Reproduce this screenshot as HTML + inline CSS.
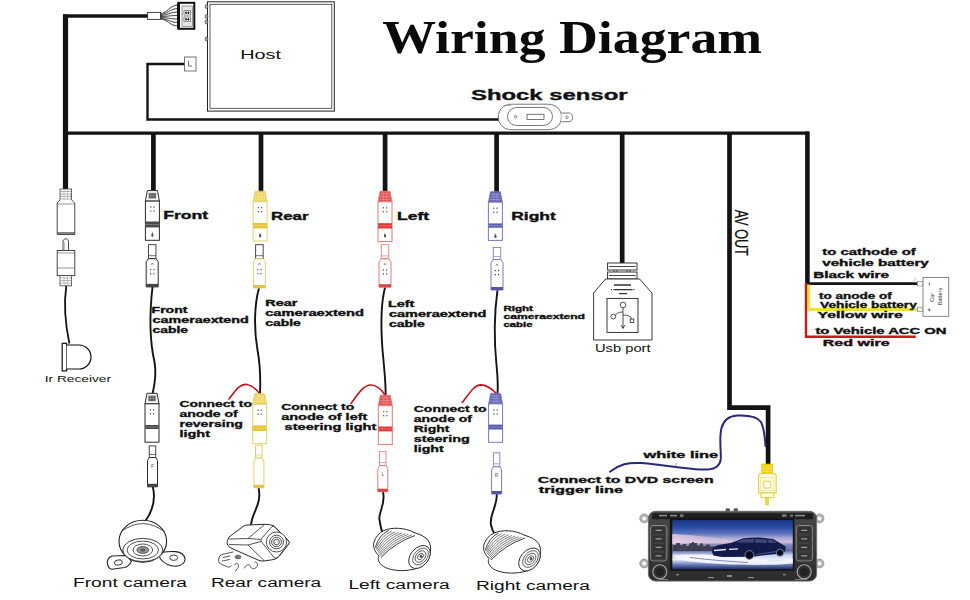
<!DOCTYPE html>
<html><head><meta charset="utf-8"><title>Wiring Diagram</title>
<style>
html,body{margin:0;padding:0;background:#fff;width:970px;height:600px;overflow:hidden;}
svg{display:block;font-family:"Liberation Sans", sans-serif;}
</style></head><body>
<svg width="970" height="600" viewBox="0 0 970 600">
<rect width="970" height="600" fill="#fff"/>

<g fill="none" stroke="#141414" stroke-linecap="square">
<path d="M65.5,14.5 L65.5,190" stroke-width="5.2" stroke-linecap="butt"/>
<path d="M63,16 L148,16" stroke-width="3.4" stroke-linecap="butt"/>
<path d="M66,133.2 L807.4,133.2" stroke-width="3.2"/>
<path d="M807.4,131.6 L807.4,284.5" stroke-width="4.6" stroke-linecap="butt"/>
<path d="M153.4,134 L153.4,191" stroke-width="4.7" stroke-linecap="butt"/>
<path d="M261,134 L261,192" stroke-width="4.7" stroke-linecap="butt"/>
<path d="M385.1,134 L385.1,191.5" stroke-width="4.7" stroke-linecap="butt"/>
<path d="M496.6,134 L496.6,192" stroke-width="4.7" stroke-linecap="butt"/>
<path d="M622.2,134 L622.2,263" stroke-width="4.7" stroke-linecap="butt"/>
<path d="M729.5,134 L729.5,407.6 L768.1,407.6 L768.1,465" stroke-width="4.7" stroke-linecap="butt" stroke-linejoin="miter"/>
<path d="M185,64 L147.5,64 L147.5,119.5 L499,119.5" stroke-width="2.4"/>
</g>
<rect x="147.5" y="12.4" width="13" height="7" fill="#fff" stroke="#333" stroke-width="0.9"/>
<path d="M160.5,13.5 C167,13.5 170,5 178,5" stroke="#333" stroke-width="0.95" fill="none"/>
<path d="M160.5,14.5 C167,14.5 170,8.5 178,8.5" stroke="#333" stroke-width="0.95" fill="none"/>
<path d="M160.5,15.5 C167,15.5 170,12 178,12" stroke="#333" stroke-width="0.95" fill="none"/>
<path d="M160.5,16.5 C167,16.5 170,15.5 178,15.5" stroke="#333" stroke-width="0.95" fill="none"/>
<path d="M160.5,17.5 C167,17.5 170,19 178,19" stroke="#333" stroke-width="0.95" fill="none"/>
<path d="M160.5,18.5 C167,18.5 170,22.5 178,22.5" stroke="#333" stroke-width="0.95" fill="none"/>
<path d="M160.5,19 C167,19 170,26 178,26" stroke="#333" stroke-width="0.95" fill="none"/>
<rect x="178.5" y="2.8" width="15.8" height="26" fill="#fff" stroke="#111" stroke-width="2"/>
<rect x="177" y="2.8" width="3" height="26" fill="#111"/>
<rect x="182" y="6" width="10.5" height="20.5" fill="#e4e4e4" stroke="#777" stroke-width="0.7"/>
<path d="M184,10.5 L190.5,10.5 L190.5,15 L184,15 Z M184,17 L190.5,17 L190.5,21.5 L184,21.5 Z" fill="#fff" stroke="#555" stroke-width="0.6"/>
<path d="M186,11.5 L186,14 M188.5,11.5 L188.5,14 M185,12.8 L189.5,12.8 M186,18 L186,20.5 M188.5,18 L188.5,20.5 M185,19.3 L189.5,19.3" stroke="#111" stroke-width="0.9"/>
<rect x="184.5" y="57" width="11.5" height="14" fill="#fff" stroke="#666" stroke-width="0.9"/>
<path d="M188.5,61 L188.5,66 L192,66" stroke="#444" stroke-width="0.8" fill="none"/>
<rect x="207.5" y="1.8" width="126.8" height="109.3" fill="#fff" stroke="#222" stroke-width="1"/>
<rect x="210" y="4.3" width="121.8" height="104" fill="none" stroke="#333" stroke-width="0.8"/>
<rect x="205.3" y="4.7" width="2.4" height="3.6" rx="0.8" fill="#bbb" stroke="#333" stroke-width="0.7"/>
<rect x="205.3" y="14.7" width="2.4" height="3.6" rx="0.8" fill="#bbb" stroke="#333" stroke-width="0.7"/>
<rect x="205.3" y="20.2" width="2.4" height="3.6" rx="0.8" fill="#bbb" stroke="#333" stroke-width="0.7"/>
<rect x="205.3" y="37.2" width="2.4" height="3.6" rx="0.8" fill="#bbb" stroke="#333" stroke-width="0.7"/>
<text x="240.2" y="58.5" font-family="Liberation Sans" font-size="12.5" font-weight="normal" fill="#111" textLength="40.8" lengthAdjust="spacingAndGlyphs" >Host</text>
<text x="382.2" y="53.3" font-family="Liberation Serif" font-size="45.5" font-weight="bold" fill="#0a0a0a" textLength="380.0" lengthAdjust="spacingAndGlyphs" >Wiring Diagram</text>
<text x="471.0" y="99.5" font-family="Liberation Sans" font-size="15.3" font-weight="bold" fill="#111" textLength="156.6" lengthAdjust="spacingAndGlyphs" stroke="#111" stroke-width="0.35" >Shock sensor</text>
<path d="M512,104.2 L547,104.2 C557,104.2 561.4,110 561.4,117 C561.4,124 557,129.7 547,129.7 L512,129.7 C503,129.7 498.3,124 498.3,117 C498.3,110 503,104.2 512,104.2 Z" fill="#fff" stroke="#555" stroke-width="0.8"/>
<rect x="507.5" y="107.5" width="45" height="18" rx="9" fill="#fff" stroke="#555" stroke-width="0.8"/>
<circle cx="515.7" cy="116.7" r="1.2" fill="none" stroke="#555" stroke-width="0.7"/>
<rect x="527" y="114.3" width="17" height="5.2" fill="#fff" stroke="#555" stroke-width="0.8"/>
<path d="M561.5,113 L569,113 C571.5,113 572.5,115 572.5,117.3 C572.5,119.6 571.5,121.7 569,121.7 L561.5,121.7" fill="#fff" stroke="#555" stroke-width="0.8"/>
<circle cx="567" cy="117.3" r="1.3" fill="none" stroke="#555" stroke-width="0.7"/>
<text x="503" y="106" font-size="2.5" fill="#666" font-family="Liberation Sans">S-7686</text>
<rect x="60" y="189" width="11.6" height="11.5" fill="#fff" stroke="#444" stroke-width="0.8"/>
<line x1="60.5" y1="191.5" x2="71" y2="191.5" stroke="#888" stroke-width="0.6"/>
<line x1="60.5" y1="194" x2="71" y2="194" stroke="#888" stroke-width="0.6"/>
<line x1="60.5" y1="196.5" x2="71" y2="196.5" stroke="#888" stroke-width="0.6"/>
<line x1="60.5" y1="199" x2="71" y2="199" stroke="#888" stroke-width="0.6"/>
<path d="M61,193 L61,199 M64,190 L64,200 M67.5,190 L67.5,200 M70.5,193 L70.5,199" stroke="#999" stroke-width="0.5"/>
<path d="M60,200 L57.2,203 L57.2,234.5 L74.8,234.5 L74.8,203 L71.6,200" fill="#fff" stroke="#333" stroke-width="0.9"/>
<line x1="57.2" y1="233" x2="74.8" y2="233" stroke="#333" stroke-width="1.2"/>
<line x1="57.2" y1="204" x2="74.8" y2="204" stroke="#555" stroke-width="0.6"/>
<path d="M63,250.5 L63,242 C63,239.5 64.5,238.8 65.7,238.8 C67,238.8 68.5,239.5 68.5,242 L68.5,250.5" fill="#fff" stroke="#333" stroke-width="0.9"/>
<line x1="64.7" y1="242" x2="64.7" y2="250" stroke="#777" stroke-width="0.5"/>
<rect x="57.2" y="250.5" width="17.6" height="25.1" fill="#fff" stroke="#333" stroke-width="0.9"/>
<line x1="57.2" y1="253" x2="74.8" y2="253" stroke="#555" stroke-width="0.6"/>
<line x1="57.2" y1="268" x2="74.8" y2="268" stroke="#555" stroke-width="0.6"/>
<rect x="60" y="275.6" width="11.6" height="10.2" fill="#fff" stroke="#444" stroke-width="0.8"/>
<line x1="60.5" y1="278" x2="71" y2="278" stroke="#888" stroke-width="0.6"/>
<line x1="60.5" y1="280.5" x2="71" y2="280.5" stroke="#888" stroke-width="0.6"/>
<line x1="60.5" y1="283" x2="71" y2="283" stroke="#888" stroke-width="0.6"/>
<path d="M64,276 L64,285.5 M67.5,276 L67.5,285.5" stroke="#999" stroke-width="0.5"/>
<path d="M66.3,286 C63.5,305 65.5,325 69.4,343.5" fill="none" stroke="#141414" stroke-width="1.8"/>
<rect x="62.2" y="343.3" width="4.4" height="27.6" fill="#fff" stroke="#111" stroke-width="1.2"/>
<path d="M66.6,345 L79,345 A12,12 0 0 1 79,369 L66.6,369" fill="#fff" stroke="#111" stroke-width="1.2"/>
<text x="44.8" y="381.6" font-family="Liberation Sans" font-size="9.2" font-weight="normal" fill="#111" textLength="66.2" lengthAdjust="spacingAndGlyphs" >Ir Receiver</text>
<g fill="none" stroke="#141414" stroke-width="1.9" stroke-linecap="round">
<path d="M152.5,287 C149,318 149.5,340 154.5,362 C157,376 154,387 152.5,394"/>
<path d="M259,288 C254,306 254,330 257.5,350 C260.5,366 260.5,382 260,394"/>
<path d="M385,287.5 C380.5,305 381,330 382.5,350 C384.5,370 386,385 385.6,395.5"/>
<path d="M497.5,290 C494,315 494.5,345 496.5,365 C498,380 498,388 497.5,394"/>
<path d="M152.8,486.8 C156,500 152,512 145,521.5"/>
<path d="M258.6,487.8 C262,505 252,512 251,525"/>
<path d="M383,491.7 C386,505 378,512 379.5,520 C380.5,526 381,529 382,531"/>
<path d="M496.8,494 C497,508 489,515 491,525 C492,530 494,533 495,534.4"/>
</g>
<g fill="none" stroke="#c0141e" stroke-width="1.6" stroke-linecap="round">
<path d="M229,399 C236,390 240,383.5 247,384.5 C253,385.5 256,389 259.5,393.5"/>
<path d="M351,403.5 C358,394 364,384.5 371,385 C378,385.5 382,390 385,395"/>
<path d="M462.3,402.6 C469,394 474,385 480.7,384.9 C487,385 492,389 496.3,393.6"/>
</g>
<path d="M147.4,190.6 L157.4,190.6 L159.4,201.1 L145.4,201.1 Z" fill="#fff" stroke="#2a2a2a" stroke-width="1"/>
<rect x="148.70000000000002" y="192.9" width="7.4" height="5.6" fill="#555"/>
<line x1="147.90" y1="193.22" x2="156.90" y2="193.22" stroke="#cfcfcf" stroke-width="0.6" opacity="0.7"/>
<line x1="147.40" y1="195.85" x2="157.40" y2="195.85" stroke="#cfcfcf" stroke-width="0.6" opacity="0.7"/>
<line x1="146.90" y1="198.47" x2="157.90" y2="198.47" stroke="#cfcfcf" stroke-width="0.6" opacity="0.7"/>
<line x1="150.9" y1="191.6" x2="150.9" y2="200.1" stroke="#cfcfcf" stroke-width="0.5" opacity="0.6"/>
<line x1="153.9" y1="191.6" x2="153.9" y2="200.1" stroke="#cfcfcf" stroke-width="0.5" opacity="0.6"/>
<rect x="145.4" y="201.1" width="14" height="39.2" fill="#fff" stroke="#2a2a2a" stroke-width="1"/>
<rect x="145.4" y="221.5" width="14" height="5.899999999999999" fill="#4a4a4a"/>
<line x1="145.4" y1="224.45" x2="159.4" y2="224.45" stroke="#fff" stroke-width="0.5" opacity="0.5"/>
<rect x="150.20000000000002" y="206.5" width="1.2" height="1.2" fill="#444"/>
<rect x="150.20000000000002" y="210.5" width="1.2" height="1.2" fill="#444"/>
<rect x="153.4" y="206.5" width="1.2" height="1.2" fill="#444"/>
<rect x="153.4" y="210.5" width="1.2" height="1.2" fill="#444"/>
<path d="M152.4,232.1 L153.6,235.1 Q153.6,236.89999999999998 152.4,236.89999999999998 Q151.20000000000002,236.89999999999998 151.20000000000002,235.1 Z" fill="#555"/>
<rect x="148.45" y="244.7" width="7.5" height="14" fill="#fff" stroke="#333" stroke-width="0.9"/>
<line x1="148.45" y1="255.7" x2="155.95" y2="255.7" stroke="#333" stroke-width="0.7"/>
<path d="M148.45,258.7 L155.95,258.7 L158.2,261.7 L158.2,286.9 L146.2,286.9 L146.2,261.7 Z" fill="#fff" stroke="#2a2a2a" stroke-width="1"/>
<rect x="146.2" y="283.9" width="12" height="3" fill="#444"/>
<path d="M151.2,264.7 L152.2,263.2 L153.2,264.7" stroke="#444" stroke-width="0.7" fill="none"/>
<rect x="150.0" y="269.09999999999997" width="1.2" height="1.2" fill="#444"/>
<rect x="150.0" y="273.09999999999997" width="1.2" height="1.2" fill="#444"/>
<rect x="153.2" y="269.09999999999997" width="1.2" height="1.2" fill="#444"/>
<rect x="153.2" y="273.09999999999997" width="1.2" height="1.2" fill="#444"/>
<path d="M147.0,393.3 L157.0,393.3 L159.0,403.8 L145.0,403.8 Z" fill="#fff" stroke="#2a2a2a" stroke-width="1"/>
<rect x="148.3" y="395.6" width="7.4" height="5.6" fill="#555"/>
<line x1="147.50" y1="395.93" x2="156.50" y2="395.93" stroke="#cfcfcf" stroke-width="0.6" opacity="0.7"/>
<line x1="147.00" y1="398.55" x2="157.00" y2="398.55" stroke="#cfcfcf" stroke-width="0.6" opacity="0.7"/>
<line x1="146.50" y1="401.18" x2="157.50" y2="401.18" stroke="#cfcfcf" stroke-width="0.6" opacity="0.7"/>
<line x1="150.5" y1="394.3" x2="150.5" y2="402.8" stroke="#cfcfcf" stroke-width="0.5" opacity="0.6"/>
<line x1="153.5" y1="394.3" x2="153.5" y2="402.8" stroke="#cfcfcf" stroke-width="0.5" opacity="0.6"/>
<rect x="145.0" y="403.8" width="14" height="38.4" fill="#fff" stroke="#2a2a2a" stroke-width="1"/>
<rect x="145.0" y="425.0" width="14" height="4.0000000000000036" fill="#4a4a4a"/>
<line x1="145.0" y1="427.0" x2="159.0" y2="427.0" stroke="#fff" stroke-width="0.5" opacity="0.5"/>
<rect x="149.8" y="409.2" width="1.2" height="1.2" fill="#444"/>
<rect x="149.8" y="413.2" width="1.2" height="1.2" fill="#444"/>
<rect x="153.0" y="409.2" width="1.2" height="1.2" fill="#444"/>
<rect x="153.0" y="413.2" width="1.2" height="1.2" fill="#444"/>
<rect x="149.25" y="445.9" width="6.5" height="11.6" fill="#fff" stroke="#333" stroke-width="0.9"/>
<line x1="149.25" y1="454.5" x2="155.75" y2="454.5" stroke="#333" stroke-width="0.7"/>
<path d="M149.25,457.5 L155.75,457.5 L157.5,460.5 L157.5,486.8 L147.5,486.8 L147.5,460.5 Z" fill="#fff" stroke="#2a2a2a" stroke-width="1"/>
<rect x="147.5" y="483.8" width="10" height="3" fill="#444"/>
<text x="152.5" y="467.5" font-family="Liberation Sans" font-size="5" text-anchor="middle" fill="#555">F</text>
<path d="M255.10000000000002,191.2 L265.1,191.2 L267.1,201.7 L253.10000000000002,201.7 Z" fill="#ecd564" stroke="#e3cf72" stroke-width="0.8"/>
<line x1="255.60" y1="193.82" x2="264.60" y2="193.82" stroke="#fff6c0" stroke-width="0.6" opacity="0.7"/>
<line x1="255.10" y1="196.45" x2="265.10" y2="196.45" stroke="#fff6c0" stroke-width="0.6" opacity="0.7"/>
<line x1="254.60" y1="199.07" x2="265.60" y2="199.07" stroke="#fff6c0" stroke-width="0.6" opacity="0.7"/>
<line x1="258.6" y1="192.2" x2="258.6" y2="200.7" stroke="#fff6c0" stroke-width="0.5" opacity="0.6"/>
<line x1="261.6" y1="192.2" x2="261.6" y2="200.7" stroke="#fff6c0" stroke-width="0.5" opacity="0.6"/>
<rect x="253.10000000000002" y="201.7" width="14" height="39.3" fill="#fff" stroke="#e3cf72" stroke-width="1"/>
<rect x="253.10000000000002" y="223.0" width="14" height="5.400000000000002" fill="#e6c63a"/>
<line x1="253.10000000000002" y1="225.7" x2="267.1" y2="225.7" stroke="#fff" stroke-width="0.5" opacity="0.5"/>
<rect x="257.9" y="207.1" width="1.2" height="1.2" fill="#444"/>
<rect x="257.9" y="211.1" width="1.2" height="1.2" fill="#444"/>
<rect x="261.1" y="207.1" width="1.2" height="1.2" fill="#444"/>
<rect x="261.1" y="211.1" width="1.2" height="1.2" fill="#444"/>
<path d="M260.1,232.7 L261.3,235.7 Q261.3,237.5 260.1,237.5 Q258.90000000000003,237.5 258.90000000000003,235.7 Z" fill="#555"/>
<rect x="255.64999999999998" y="244.7" width="7.5" height="14" fill="#fff" stroke="#333" stroke-width="0.9"/>
<line x1="255.64999999999998" y1="255.7" x2="263.15" y2="255.7" stroke="#333" stroke-width="0.7"/>
<path d="M255.64999999999998,258.7 L263.15,258.7 L265.4,261.7 L265.4,288.0 L253.39999999999998,288.0 L253.39999999999998,261.7 Z" fill="#fff" stroke="#e3cf72" stroke-width="1"/>
<rect x="253.39999999999998" y="285.0" width="12" height="3" fill="#e3c540"/>
<path d="M258.4,264.7 L259.4,263.2 L260.4,264.7" stroke="#444" stroke-width="0.7" fill="none"/>
<rect x="257.19999999999993" y="269.09999999999997" width="1.2" height="1.2" fill="#444"/>
<rect x="257.19999999999993" y="273.09999999999997" width="1.2" height="1.2" fill="#444"/>
<rect x="260.4" y="269.09999999999997" width="1.2" height="1.2" fill="#444"/>
<rect x="260.4" y="273.09999999999997" width="1.2" height="1.2" fill="#444"/>
<path d="M254.7,393.7 L264.7,393.7 L266.7,404.2 L252.7,404.2 Z" fill="#ecd564" stroke="#e3cf72" stroke-width="0.8"/>
<line x1="255.20" y1="396.32" x2="264.20" y2="396.32" stroke="#fff6c0" stroke-width="0.6" opacity="0.7"/>
<line x1="254.70" y1="398.95" x2="264.70" y2="398.95" stroke="#fff6c0" stroke-width="0.6" opacity="0.7"/>
<line x1="254.20" y1="401.57" x2="265.20" y2="401.57" stroke="#fff6c0" stroke-width="0.6" opacity="0.7"/>
<line x1="258.2" y1="394.7" x2="258.2" y2="403.2" stroke="#fff6c0" stroke-width="0.5" opacity="0.6"/>
<line x1="261.2" y1="394.7" x2="261.2" y2="403.2" stroke="#fff6c0" stroke-width="0.5" opacity="0.6"/>
<rect x="252.7" y="404.2" width="14" height="39.5" fill="#fff" stroke="#e3cf72" stroke-width="1"/>
<rect x="252.7" y="425.4" width="14" height="5.599999999999998" fill="#e6c63a"/>
<line x1="252.7" y1="428.2" x2="266.7" y2="428.2" stroke="#fff" stroke-width="0.5" opacity="0.5"/>
<rect x="257.49999999999994" y="409.59999999999997" width="1.2" height="1.2" fill="#444"/>
<rect x="257.49999999999994" y="413.59999999999997" width="1.2" height="1.2" fill="#444"/>
<rect x="260.7" y="409.59999999999997" width="1.2" height="1.2" fill="#444"/>
<rect x="260.7" y="413.59999999999997" width="1.2" height="1.2" fill="#444"/>
<rect x="255.64999999999998" y="445.2" width="6.5" height="12.8" fill="#fff" stroke="#e0c850" stroke-width="0.9"/>
<line x1="255.64999999999998" y1="455.0" x2="262.15" y2="455.0" stroke="#e0c850" stroke-width="0.7"/>
<path d="M255.64999999999998,458.0 L262.15,458.0 L263.9,461.0 L263.9,487.8 L253.89999999999998,487.8 L253.89999999999998,461.0 Z" fill="#fff" stroke="#e3cf72" stroke-width="1"/>
<rect x="253.89999999999998" y="484.8" width="10" height="3" fill="#e3c540"/>
<path d="M380.0,191.3 L390.0,191.3 L392.0,201.8 L378.0,201.8 Z" fill="#e25454" stroke="#e07a7a" stroke-width="0.8"/>
<line x1="380.50" y1="193.93" x2="389.50" y2="193.93" stroke="#ffc0c0" stroke-width="0.6" opacity="0.7"/>
<line x1="380.00" y1="196.55" x2="390.00" y2="196.55" stroke="#ffc0c0" stroke-width="0.6" opacity="0.7"/>
<line x1="379.50" y1="199.18" x2="390.50" y2="199.18" stroke="#ffc0c0" stroke-width="0.6" opacity="0.7"/>
<line x1="383.5" y1="192.3" x2="383.5" y2="200.8" stroke="#ffc0c0" stroke-width="0.5" opacity="0.6"/>
<line x1="386.5" y1="192.3" x2="386.5" y2="200.8" stroke="#ffc0c0" stroke-width="0.5" opacity="0.6"/>
<rect x="378.0" y="201.8" width="14" height="39.7" fill="#fff" stroke="#e07a7a" stroke-width="1"/>
<rect x="378.0" y="223.20000000000002" width="14" height="5.300000000000004" fill="#dc3c3c"/>
<line x1="378.0" y1="225.85000000000002" x2="392.0" y2="225.85000000000002" stroke="#fff" stroke-width="0.5" opacity="0.5"/>
<rect x="382.79999999999995" y="207.20000000000002" width="1.2" height="1.2" fill="#444"/>
<rect x="382.79999999999995" y="211.20000000000002" width="1.2" height="1.2" fill="#444"/>
<rect x="386.0" y="207.20000000000002" width="1.2" height="1.2" fill="#444"/>
<rect x="386.0" y="211.20000000000002" width="1.2" height="1.2" fill="#444"/>
<path d="M385.0,232.8 L386.2,235.8 Q386.2,237.60000000000002 385.0,237.60000000000002 Q383.8,237.60000000000002 383.8,235.8 Z" fill="#555"/>
<rect x="381.25" y="244.7" width="7.5" height="14.2" fill="#fff" stroke="#e08080" stroke-width="0.9"/>
<line x1="381.25" y1="255.89999999999998" x2="388.75" y2="255.89999999999998" stroke="#e08080" stroke-width="0.7"/>
<path d="M381.25,258.9 L388.75,258.9 L391.0,261.9 L391.0,287.2 L379.0,287.2 L379.0,261.9 Z" fill="#fff" stroke="#e07a7a" stroke-width="1"/>
<rect x="379.0" y="284.2" width="12" height="3" fill="#d84444"/>
<path d="M384.0,264.9 L385.0,263.4 L386.0,264.9" stroke="#444" stroke-width="0.7" fill="none"/>
<rect x="382.79999999999995" y="269.29999999999995" width="1.2" height="1.2" fill="#444"/>
<rect x="382.79999999999995" y="273.29999999999995" width="1.2" height="1.2" fill="#444"/>
<rect x="386.0" y="269.29999999999995" width="1.2" height="1.2" fill="#444"/>
<rect x="386.0" y="273.29999999999995" width="1.2" height="1.2" fill="#444"/>
<path d="M380.3,395.2 L390.3,395.2 L392.3,405.7 L378.3,405.7 Z" fill="#e25454" stroke="#e07a7a" stroke-width="0.8"/>
<line x1="380.80" y1="397.82" x2="389.80" y2="397.82" stroke="#ffc0c0" stroke-width="0.6" opacity="0.7"/>
<line x1="380.30" y1="400.45" x2="390.30" y2="400.45" stroke="#ffc0c0" stroke-width="0.6" opacity="0.7"/>
<line x1="379.80" y1="403.07" x2="390.80" y2="403.07" stroke="#ffc0c0" stroke-width="0.6" opacity="0.7"/>
<line x1="383.8" y1="396.2" x2="383.8" y2="404.7" stroke="#ffc0c0" stroke-width="0.5" opacity="0.6"/>
<line x1="386.8" y1="396.2" x2="386.8" y2="404.7" stroke="#ffc0c0" stroke-width="0.5" opacity="0.6"/>
<rect x="378.3" y="405.7" width="14" height="38.9" fill="#fff" stroke="#e07a7a" stroke-width="1"/>
<rect x="378.3" y="426.5" width="14" height="4.900000000000002" fill="#dc3c3c"/>
<line x1="378.3" y1="428.95" x2="392.3" y2="428.95" stroke="#fff" stroke-width="0.5" opacity="0.5"/>
<rect x="383.09999999999997" y="411.09999999999997" width="1.2" height="1.2" fill="#444"/>
<rect x="383.09999999999997" y="415.09999999999997" width="1.2" height="1.2" fill="#444"/>
<rect x="386.3" y="411.09999999999997" width="1.2" height="1.2" fill="#444"/>
<rect x="386.3" y="415.09999999999997" width="1.2" height="1.2" fill="#444"/>
<rect x="379.55" y="451.7" width="6.5" height="13.9" fill="#fff" stroke="#e08080" stroke-width="0.9"/>
<line x1="379.55" y1="462.59999999999997" x2="386.05" y2="462.59999999999997" stroke="#e08080" stroke-width="0.7"/>
<path d="M379.55,465.59999999999997 L386.05,465.59999999999997 L387.8,468.59999999999997 L387.8,491.7 L377.8,491.7 L377.8,468.59999999999997 Z" fill="#fff" stroke="#e07a7a" stroke-width="1"/>
<rect x="377.8" y="488.7" width="10" height="3" fill="#d84444"/>
<text x="382.8" y="475.59999999999997" font-family="Liberation Sans" font-size="5" text-anchor="middle" fill="#555">L</text>
<path d="M490.4,191.7 L500.4,191.7 L502.4,202.2 L488.4,202.2 Z" fill="#6666b2" stroke="#7a7ab8" stroke-width="0.8"/>
<line x1="490.90" y1="194.32" x2="499.90" y2="194.32" stroke="#d0d0f4" stroke-width="0.6" opacity="0.7"/>
<line x1="490.40" y1="196.95" x2="500.40" y2="196.95" stroke="#d0d0f4" stroke-width="0.6" opacity="0.7"/>
<line x1="489.90" y1="199.57" x2="500.90" y2="199.57" stroke="#d0d0f4" stroke-width="0.6" opacity="0.7"/>
<line x1="493.9" y1="192.7" x2="493.9" y2="201.2" stroke="#d0d0f4" stroke-width="0.5" opacity="0.6"/>
<line x1="496.9" y1="192.7" x2="496.9" y2="201.2" stroke="#d0d0f4" stroke-width="0.5" opacity="0.6"/>
<rect x="488.4" y="202.2" width="14" height="38.2" fill="#fff" stroke="#7a7ab8" stroke-width="1"/>
<rect x="488.4" y="223.39999999999998" width="14" height="4.300000000000001" fill="#5c5cae"/>
<line x1="488.4" y1="225.54999999999998" x2="502.4" y2="225.54999999999998" stroke="#fff" stroke-width="0.5" opacity="0.5"/>
<rect x="493.19999999999993" y="207.6" width="1.2" height="1.2" fill="#444"/>
<rect x="493.19999999999993" y="211.6" width="1.2" height="1.2" fill="#444"/>
<rect x="496.4" y="207.6" width="1.2" height="1.2" fill="#444"/>
<rect x="496.4" y="211.6" width="1.2" height="1.2" fill="#444"/>
<path d="M495.4,233.2 L496.59999999999997,236.2 Q496.59999999999997,238.0 495.4,238.0 Q494.2,238.0 494.2,236.2 Z" fill="#555"/>
<rect x="493.25" y="247.5" width="7.5" height="12.1" fill="#fff" stroke="#8080b8" stroke-width="0.9"/>
<line x1="493.25" y1="256.6" x2="500.75" y2="256.6" stroke="#8080b8" stroke-width="0.7"/>
<path d="M493.25,259.6 L500.75,259.6 L503.0,262.6 L503.0,290.0 L491.0,290.0 L491.0,262.6 Z" fill="#fff" stroke="#7a7ab8" stroke-width="1"/>
<rect x="491.0" y="287.0" width="12" height="3" fill="#5555a5"/>
<path d="M496.0,265.6 L497.0,264.1 L498.0,265.6" stroke="#444" stroke-width="0.7" fill="none"/>
<rect x="494.79999999999995" y="270.0" width="1.2" height="1.2" fill="#444"/>
<rect x="494.79999999999995" y="274.0" width="1.2" height="1.2" fill="#444"/>
<rect x="498.0" y="270.0" width="1.2" height="1.2" fill="#444"/>
<rect x="498.0" y="274.0" width="1.2" height="1.2" fill="#444"/>
<path d="M490.6,393.4 L500.6,393.4 L502.6,403.9 L488.6,403.9 Z" fill="#6666b2" stroke="#7a7ab8" stroke-width="0.8"/>
<line x1="491.10" y1="396.02" x2="500.10" y2="396.02" stroke="#d0d0f4" stroke-width="0.6" opacity="0.7"/>
<line x1="490.60" y1="398.65" x2="500.60" y2="398.65" stroke="#d0d0f4" stroke-width="0.6" opacity="0.7"/>
<line x1="490.10" y1="401.27" x2="501.10" y2="401.27" stroke="#d0d0f4" stroke-width="0.6" opacity="0.7"/>
<line x1="494.1" y1="394.4" x2="494.1" y2="402.9" stroke="#d0d0f4" stroke-width="0.5" opacity="0.6"/>
<line x1="497.1" y1="394.4" x2="497.1" y2="402.9" stroke="#d0d0f4" stroke-width="0.5" opacity="0.6"/>
<rect x="488.6" y="403.9" width="14" height="38.4" fill="#fff" stroke="#7a7ab8" stroke-width="1"/>
<rect x="488.6" y="424.59999999999997" width="14" height="4.900000000000002" fill="#5c5cae"/>
<line x1="488.6" y1="427.04999999999995" x2="502.6" y2="427.04999999999995" stroke="#fff" stroke-width="0.5" opacity="0.5"/>
<rect x="493.4" y="409.29999999999995" width="1.2" height="1.2" fill="#444"/>
<rect x="493.4" y="413.29999999999995" width="1.2" height="1.2" fill="#444"/>
<rect x="496.6" y="409.29999999999995" width="1.2" height="1.2" fill="#444"/>
<rect x="496.6" y="413.29999999999995" width="1.2" height="1.2" fill="#444"/>
<rect x="493.35" y="452.8" width="6.5" height="14" fill="#fff" stroke="#8080b8" stroke-width="0.9"/>
<line x1="493.35" y1="463.8" x2="499.85" y2="463.8" stroke="#8080b8" stroke-width="0.7"/>
<path d="M493.35,466.8 L499.85,466.8 L501.6,469.8 L501.6,494.0 L491.6,494.0 L491.6,469.8 Z" fill="#fff" stroke="#7a7ab8" stroke-width="1"/>
<rect x="491.6" y="491.0" width="10" height="3" fill="#5555a5"/>
<text x="496.6" y="476.8" font-family="Liberation Sans" font-size="5" text-anchor="middle" fill="#555">R</text>
<text x="163.2" y="219" font-family="Liberation Sans" font-size="10.2" font-weight="bold" fill="#111" textLength="45.0" lengthAdjust="spacingAndGlyphs" stroke="#111" stroke-width="0.35" >Front</text>
<text x="271.0" y="219.8" font-family="Liberation Sans" font-size="10.2" font-weight="bold" fill="#111" textLength="37.6" lengthAdjust="spacingAndGlyphs" stroke="#111" stroke-width="0.35" >Rear</text>
<text x="397.0" y="220" font-family="Liberation Sans" font-size="10.2" font-weight="bold" fill="#111" textLength="32.2" lengthAdjust="spacingAndGlyphs" stroke="#111" stroke-width="0.35" >Left</text>
<text x="511.2" y="220" font-family="Liberation Sans" font-size="10.2" font-weight="bold" fill="#111" textLength="44.6" lengthAdjust="spacingAndGlyphs" stroke="#111" stroke-width="0.35" >Right</text>
<text x="151.6" y="312.5" font-family="Liberation Sans" font-size="8.4" font-weight="bold" fill="#111" textLength="35.8" lengthAdjust="spacingAndGlyphs" stroke="#111" stroke-width="0.35" >Front</text>
<text x="152.6" y="322.7" font-family="Liberation Sans" font-size="8.4" font-weight="bold" fill="#111" textLength="96.2" lengthAdjust="spacingAndGlyphs" stroke="#111" stroke-width="0.35" >cameraextend</text>
<text x="152.6" y="332.9" font-family="Liberation Sans" font-size="8.4" font-weight="bold" fill="#111" textLength="35.4" lengthAdjust="spacingAndGlyphs" stroke="#111" stroke-width="0.35" >cable</text>
<text x="265.2" y="305.9" font-family="Liberation Sans" font-size="8.4" font-weight="bold" fill="#111" textLength="32.2" lengthAdjust="spacingAndGlyphs" stroke="#111" stroke-width="0.35" >Rear</text>
<text x="265.2" y="316.0" font-family="Liberation Sans" font-size="8.4" font-weight="bold" fill="#111" textLength="98.8" lengthAdjust="spacingAndGlyphs" stroke="#111" stroke-width="0.35" >cameraextend</text>
<text x="265.2" y="326.09999999999997" font-family="Liberation Sans" font-size="8.4" font-weight="bold" fill="#111" textLength="35.6" lengthAdjust="spacingAndGlyphs" stroke="#111" stroke-width="0.35" >cable</text>
<text x="388.0" y="307.0" font-family="Liberation Sans" font-size="8.4" font-weight="bold" fill="#111" textLength="26.4" lengthAdjust="spacingAndGlyphs" stroke="#111" stroke-width="0.35" >Left</text>
<text x="389.0" y="317.0" font-family="Liberation Sans" font-size="8.4" font-weight="bold" fill="#111" textLength="97.4" lengthAdjust="spacingAndGlyphs" stroke="#111" stroke-width="0.35" >cameraextend</text>
<text x="389.0" y="327.0" font-family="Liberation Sans" font-size="8.4" font-weight="bold" fill="#111" textLength="35.8" lengthAdjust="spacingAndGlyphs" stroke="#111" stroke-width="0.35" >cable</text>
<text x="503.4" y="310.9" font-family="Liberation Sans" font-size="7.2" font-weight="bold" fill="#111" textLength="29.6" lengthAdjust="spacingAndGlyphs" stroke="#111" stroke-width="0.35" >Right</text>
<text x="503.4" y="319.09999999999997" font-family="Liberation Sans" font-size="7.2" font-weight="bold" fill="#111" textLength="81.6" lengthAdjust="spacingAndGlyphs" stroke="#111" stroke-width="0.35" >cameraextend</text>
<text x="503.4" y="327.29999999999995" font-family="Liberation Sans" font-size="7.2" font-weight="bold" fill="#111" textLength="29.2" lengthAdjust="spacingAndGlyphs" stroke="#111" stroke-width="0.35" >cable</text>
<text x="179.4" y="406.7" font-family="Liberation Sans" font-size="9.7" font-weight="bold" fill="#111" textLength="72.6" lengthAdjust="spacingAndGlyphs" stroke="#111" stroke-width="0.35" >Connect to</text>
<text x="179.4" y="416.8" font-family="Liberation Sans" font-size="9.7" font-weight="bold" fill="#111" textLength="58.4" lengthAdjust="spacingAndGlyphs" stroke="#111" stroke-width="0.35" >anode of</text>
<text x="179.4" y="426.9" font-family="Liberation Sans" font-size="9.7" font-weight="bold" fill="#111" textLength="63.6" lengthAdjust="spacingAndGlyphs" stroke="#111" stroke-width="0.35" >reversing</text>
<text x="179.4" y="437.0" font-family="Liberation Sans" font-size="9.7" font-weight="bold" fill="#111" textLength="30.6" lengthAdjust="spacingAndGlyphs" stroke="#111" stroke-width="0.35" >light</text>
<text x="281.2" y="409.8" font-family="Liberation Sans" font-size="9.7" font-weight="bold" fill="#111" textLength="73.0" lengthAdjust="spacingAndGlyphs" stroke="#111" stroke-width="0.35" >Connect to</text>
<text x="281.2" y="420.2" font-family="Liberation Sans" font-size="9.7" font-weight="bold" fill="#111" textLength="86.2" lengthAdjust="spacingAndGlyphs" stroke="#111" stroke-width="0.35" >anode of left</text>
<text x="284.6" y="430" font-family="Liberation Sans" font-size="9.7" font-weight="bold" fill="#111" textLength="91.8" lengthAdjust="spacingAndGlyphs" stroke="#111" stroke-width="0.35" >steering light</text>
<text x="413.8" y="411.8" font-family="Liberation Sans" font-size="9.7" font-weight="bold" fill="#111" textLength="72.8" lengthAdjust="spacingAndGlyphs" stroke="#111" stroke-width="0.35" >Connect to</text>
<text x="413.8" y="421.90000000000003" font-family="Liberation Sans" font-size="9.7" font-weight="bold" fill="#111" textLength="58.2" lengthAdjust="spacingAndGlyphs" stroke="#111" stroke-width="0.35" >anode of</text>
<text x="413.8" y="432.0" font-family="Liberation Sans" font-size="9.7" font-weight="bold" fill="#111" textLength="35.6" lengthAdjust="spacingAndGlyphs" stroke="#111" stroke-width="0.35" >Right</text>
<text x="413.8" y="442.1" font-family="Liberation Sans" font-size="9.7" font-weight="bold" fill="#111" textLength="56.0" lengthAdjust="spacingAndGlyphs" stroke="#111" stroke-width="0.35" >steering</text>
<text x="413.8" y="452.2" font-family="Liberation Sans" font-size="9.7" font-weight="bold" fill="#111" textLength="29.8" lengthAdjust="spacingAndGlyphs" stroke="#111" stroke-width="0.35" >light</text>
<text x="73.0" y="586.6" font-family="Liberation Sans" font-size="12" font-weight="normal" fill="#111" textLength="114.0" lengthAdjust="spacingAndGlyphs" >Front camera</text>
<text x="211.0" y="586.8" font-family="Liberation Sans" font-size="12" font-weight="normal" fill="#111" textLength="110.2" lengthAdjust="spacingAndGlyphs" >Rear camera</text>
<text x="348.4" y="588.9" font-family="Liberation Sans" font-size="12" font-weight="normal" fill="#111" textLength="101.4" lengthAdjust="spacingAndGlyphs" >Left camera</text>
<text x="476.0" y="590.3" font-family="Liberation Sans" font-size="12" font-weight="normal" fill="#111" textLength="113.8" lengthAdjust="spacingAndGlyphs" >Right camera</text>
<path d="M126,555.5 L112,556 Q107.5,557.5 107.3,562.5 Q108,569 112,569.2 L124.5,567.5 Q129,566.5 131.5,561 Z" fill="#fff" stroke="#222" stroke-width="1.1"/>
<ellipse cx="118.4" cy="562.5" rx="4" ry="2.6" transform="rotate(-10 118.4 562.5)" fill="#fff" stroke="#2a2a2a" stroke-width="0.9"/>
<path d="M158,553 Q166,551 175.8,551.6 Q184,552.5 185.2,559 Q184.5,565.5 175.8,566.3 Q166,566 160.5,559 Z" fill="#fff" stroke="#222" stroke-width="1.1"/>
<ellipse cx="173.7" cy="557.7" rx="4" ry="2.7" fill="#fff" stroke="#2a2a2a" stroke-width="0.9"/>
<ellipse cx="142.8" cy="541.2" rx="23.8" ry="20.9" fill="#fff" stroke="#222" stroke-width="1.1"/>
<path d="M121,531.7 Q142.8,515.5 164.5,531.7" fill="none" stroke="#2a2a2a" stroke-width="0.8"/>
<ellipse cx="142.8" cy="550" rx="20" ry="11.6" fill="#fff" stroke="#2a2a2a" stroke-width="0.9"/>
<ellipse cx="142.8" cy="550" rx="15.7" ry="8.9" fill="#fff" stroke="#2a2a2a" stroke-width="0.8"/>
<ellipse cx="142.8" cy="550" rx="9.8" ry="6" fill="#fff" stroke="#2a2a2a" stroke-width="0.8"/>
<ellipse cx="142.8" cy="550" rx="6" ry="3.4" fill="#999" stroke="#2a2a2a" stroke-width="0.7"/>
<ellipse cx="142.8" cy="550" rx="2.2" ry="1.3" fill="#666" stroke="#2a2a2a" stroke-width="0.4"/>
<g fill="none" stroke="#2a2a2a" stroke-width="0.8" stroke-linejoin="round" stroke-linecap="round">
<path d="M233,552 L222,554.5 Q219,555.5 219,558 L218.6,561 Q219,563.5 221,564.2 L228,567 Q230,567.6 231.2,566"/>
<path d="M223,557.5 L230,556 M222.5,561 L229.5,559.5"/>
<path d="M234.5,565 C236,562.5 238.5,563 238.5,566 C238.5,569 235.5,569 235.5,571"/>
<path d="M244.5,568 C245.5,564.5 249.5,563.5 250.5,566.5 C251.5,569.5 255,569.5 257,566.5 C258.5,563.5 256.5,561.5 255,562"/>
</g>
<ellipse cx="238" cy="557" rx="3" ry="2" fill="#777" stroke="#444" stroke-width="0.4"/>
<path d="M229,537 L243,526.5 Q245,525 248,525 L264,524.3 Q270,524 274,526 L288,540 Q290.5,542.5 288,545 L279,556.5 Q276.5,559.5 272,559.8 L264,561 Q261,561.3 258,560 L233,549 Q226,546 227.3,541.5 Q227.8,539 229,537 Z" fill="#fff" stroke="#2a2a2a" stroke-width="1"/>
<path d="M229,539 L248,538.5 L261,539.5 M229,544.5 L248,545 L261,541.5 M248,538.5 L264.5,524.5 M248,545 L264,560.5" fill="none" stroke="#2a2a2a" stroke-width="0.8"/>
<path d="M274,526.5 L288.5,541 Q290,542.5 288.5,544 L278,557 Q276,559 274,557.5 L261.5,541.8 Q260.3,539.8 261.8,538.2 L272,526.5 Q273,525.7 274,526.5 Z" fill="#fff" stroke="#2a2a2a" stroke-width="0.8"/>
<ellipse cx="276.5" cy="542" rx="10.2" ry="10" fill="#fff" stroke="#2a2a2a" stroke-width="0.8"/>
<ellipse cx="276.5" cy="542" rx="6.936" ry="6.8" fill="#fff" stroke="#2a2a2a" stroke-width="0.8"/>
<ellipse cx="276.5" cy="542" rx="4.896" ry="4.8" fill="#fff" stroke="#2a2a2a" stroke-width="0.8"/>
<ellipse cx="276.5" cy="542" rx="2.856" ry="2.8" fill="#eee" stroke="#2a2a2a" stroke-width="0.8"/>
<g transform="translate(0,0)">
<path d="M384,530.5 C392,527 405,527.5 414,532.5 C418,534 422,535 425,537.5 C431,541 432,550 429,558 C426,566 418,569.5 405,570.5 C395,571 386,569 381.5,565 C377.5,561 378,558 379,556 C375,552 372.5,547 374,542 C375.5,537 379,533 384,530.5 Z" fill="#fff" stroke="#2a2a2a" stroke-width="1"/>
<path d="M415.0,535.5 Q395.0,542.5 381.0,557.5" fill="none" stroke="#2a2a2a" stroke-width="0.9"/>
<path d="M411.7,534.9 Q393.0,541.6 380.3,556.2" fill="none" stroke="#2a2a2a" stroke-width="0.6"/>
<path d="M408.4,534.2 Q391.0,540.6 379.6,555.0" fill="none" stroke="#2a2a2a" stroke-width="0.6"/>
<path d="M405.1,533.6 Q389.0,539.7 378.9,553.8" fill="none" stroke="#2a2a2a" stroke-width="0.6"/>
<path d="M401.8,533.0 Q386.9,538.8 378.1,552.5" fill="none" stroke="#2a2a2a" stroke-width="0.6"/>
<path d="M398.4,532.4 Q384.9,537.8 377.4,551.2" fill="none" stroke="#2a2a2a" stroke-width="0.6"/>
<path d="M395.1,531.8 Q382.9,536.9 376.7,550.0" fill="none" stroke="#2a2a2a" stroke-width="0.6"/>
<path d="M391.8,531.1 Q380.9,535.9 376.0,548.8" fill="none" stroke="#2a2a2a" stroke-width="0.6"/>
<path d="M388.5,530.5 Q378.9,535.0 375.3,547.5" fill="none" stroke="#2a2a2a" stroke-width="0.9"/>
<ellipse cx="419.5" cy="557" rx="9" ry="13" transform="rotate(40 419.5 557)" fill="#fff" stroke="#2a2a2a" stroke-width="0.9"/>
<ellipse cx="420.5" cy="556.5" rx="6.5" ry="9.5" transform="rotate(40 420.5 556.5)" fill="none" stroke="#2a2a2a" stroke-width="0.7"/>
<ellipse cx="420.5" cy="556.5" rx="4.5" ry="6.5" transform="rotate(40 420.5 556.5)" fill="none" stroke="#2a2a2a" stroke-width="0.7"/>
<ellipse cx="420.5" cy="556.5" rx="2.5" ry="3.6" transform="rotate(40 420.5 556.5)" fill="none" stroke="#2a2a2a" stroke-width="0.7"/>
<ellipse cx="421" cy="556.2" rx="1.4" ry="1.8" fill="#555"/>
</g>
<g transform="translate(110,2.5)">
<path d="M384,530.5 C392,527 405,527.5 414,532.5 C418,534 422,535 425,537.5 C431,541 432,550 429,558 C426,566 418,569.5 405,570.5 C395,571 386,569 381.5,565 C377.5,561 378,558 379,556 C375,552 372.5,547 374,542 C375.5,537 379,533 384,530.5 Z" fill="#fff" stroke="#2a2a2a" stroke-width="1"/>
<path d="M415.0,535.5 Q395.0,542.5 381.0,557.5" fill="none" stroke="#2a2a2a" stroke-width="0.9"/>
<path d="M411.7,534.9 Q393.0,541.6 380.3,556.2" fill="none" stroke="#2a2a2a" stroke-width="0.6"/>
<path d="M408.4,534.2 Q391.0,540.6 379.6,555.0" fill="none" stroke="#2a2a2a" stroke-width="0.6"/>
<path d="M405.1,533.6 Q389.0,539.7 378.9,553.8" fill="none" stroke="#2a2a2a" stroke-width="0.6"/>
<path d="M401.8,533.0 Q386.9,538.8 378.1,552.5" fill="none" stroke="#2a2a2a" stroke-width="0.6"/>
<path d="M398.4,532.4 Q384.9,537.8 377.4,551.2" fill="none" stroke="#2a2a2a" stroke-width="0.6"/>
<path d="M395.1,531.8 Q382.9,536.9 376.7,550.0" fill="none" stroke="#2a2a2a" stroke-width="0.6"/>
<path d="M391.8,531.1 Q380.9,535.9 376.0,548.8" fill="none" stroke="#2a2a2a" stroke-width="0.6"/>
<path d="M388.5,530.5 Q378.9,535.0 375.3,547.5" fill="none" stroke="#2a2a2a" stroke-width="0.9"/>
<ellipse cx="419.5" cy="557" rx="9" ry="13" transform="rotate(40 419.5 557)" fill="#fff" stroke="#2a2a2a" stroke-width="0.9"/>
<ellipse cx="420.5" cy="556.5" rx="6.5" ry="9.5" transform="rotate(40 420.5 556.5)" fill="none" stroke="#2a2a2a" stroke-width="0.7"/>
<ellipse cx="420.5" cy="556.5" rx="4.5" ry="6.5" transform="rotate(40 420.5 556.5)" fill="none" stroke="#2a2a2a" stroke-width="0.7"/>
<ellipse cx="420.5" cy="556.5" rx="2.5" ry="3.6" transform="rotate(40 420.5 556.5)" fill="none" stroke="#2a2a2a" stroke-width="0.7"/>
<ellipse cx="421" cy="556.2" rx="1.4" ry="1.8" fill="#555"/>
</g>
<rect x="607.6" y="263" width="29.4" height="7" fill="#fff" stroke="#222" stroke-width="0.9"/>
<rect x="607.6" y="272" width="29.4" height="7" fill="#fff" stroke="#222" stroke-width="0.9"/>
<path d="M609,266.5 L635.6,266.5 M609,275.5 L635.6,275.5" stroke="#444" stroke-width="1.2"/>
<path d="M614,270 L614,272 M617,270 L617,272 M627,270 L627,272 M630,270 L630,272" stroke="#333" stroke-width="0.9"/>
<path d="M605.5,279 L639.5,279 L652,293 L652,340 L593.6,340 L593.6,293 Z" fill="#fff" stroke="#222" stroke-width="0.9"/>
<path d="M614,285 L631,285 M613.5,289.6 L632.5,289.6 M619,293.6 L627,293.6" stroke="#333" stroke-width="1.3"/>
<path d="M611,289.6 L612,289.6 M633.5,289.6 L634.5,289.6" stroke="#333" stroke-width="1.2"/>
<rect x="607" y="298.4" width="31" height="34" fill="#fff" stroke="#222" stroke-width="0.9"/>
<g fill="none" stroke="#222" stroke-width="0.8">
<circle cx="623" cy="305" r="2.8"/><path d="M623,307.8 L623,328 M621,325 L623,328.5 L625,325"/>
<path d="M623,312 C618,312 616,314 615.3,315.5"/><circle cx="613.3" cy="316.6" r="2.4"/>
<path d="M623,315 C628,315 631,316.5 631.8,319"/><rect x="630.2" y="319" width="3.6" height="3.4"/>
</g>
<text x="595.0" y="351.6" font-family="Liberation Sans" font-size="10" font-weight="normal" fill="#111" textLength="55.6" lengthAdjust="spacingAndGlyphs" >Usb port</text>
<text transform="translate(734.5,209.8) rotate(90)" x="0" y="0" font-family="Liberation Sans" font-size="18.2" fill="#111" stroke="#111" stroke-width="0.25" textLength="46" lengthAdjust="spacingAndGlyphs">AV OUT</text>
<path d="M610,471.7 C620,464 628,462.5 640,463 C660,464 690,470 707.5,469.5 C716,469 720.5,465 720.8,458 C721,448 719,438 721.5,428 C724,419 730,416 737,415.5 C748,415 757,416 761,422 C764,428 765,438 765.5,446" fill="none" stroke="#2c2878" stroke-width="2" stroke-linecap="round"/>
<line x1="676" y1="463" x2="676" y2="468" stroke="#555" stroke-width="0.5"/>
<rect x="761.8" y="464" width="10.8" height="9.6" fill="#f0cf10" stroke="#e0c000" stroke-width="0.6"/>
<line x1="762" y1="466.4" x2="772.4" y2="466.4" stroke="#fff0a0" stroke-width="0.6"/>
<line x1="762" y1="468.8" x2="772.4" y2="468.8" stroke="#fff0a0" stroke-width="0.6"/>
<line x1="762" y1="471.2" x2="772.4" y2="471.2" stroke="#fff0a0" stroke-width="0.6"/>
<path d="M760,473.6 L774.8,473.6 L776.2,475.5 L776.2,492.9 L758.6,492.9 L758.6,475.5 Z" fill="#fffbe6" stroke="#e4d44a" stroke-width="1.2"/>
<rect x="760.8" y="477.6" width="13.2" height="13.2" fill="none" stroke="#ece080" stroke-width="0.7"/>
<rect x="763.8" y="481.2" width="6.4" height="6.8" fill="#fff" stroke="#e0d040" stroke-width="1"/>
<rect x="761" y="492.9" width="12.8" height="4.8" fill="#fffbe6" stroke="#e4d44a" stroke-width="1.1"/>
<rect x="765.4" y="497.7" width="3.2" height="7.2" fill="#ecd840" stroke="#e0c830" stroke-width="0.5"/>
<text x="643.4" y="458" font-family="Liberation Sans" font-size="9.2" font-weight="bold" fill="#111" textLength="74.8" lengthAdjust="spacingAndGlyphs" stroke="#111" stroke-width="0.35" >white line</text>
<text x="537.8" y="482.5" font-family="Liberation Sans" font-size="9.2" font-weight="bold" fill="#111" textLength="175.8" lengthAdjust="spacingAndGlyphs" stroke="#111" stroke-width="0.35" >Connect to DVD screen</text>
<text x="538.8" y="493.3" font-family="Liberation Sans" font-size="9.2" font-weight="bold" fill="#111" textLength="84.2" lengthAdjust="spacingAndGlyphs" stroke="#111" stroke-width="0.35" >trigger line</text>
<defs>
<linearGradient id="sky" x1="0" y1="0" x2="0" y2="1">
<stop offset="0" stop-color="#1a3486"/><stop offset="0.15" stop-color="#2c4ca6"/><stop offset="0.27" stop-color="#5a72bc"/>
<stop offset="0.36" stop-color="#a4a6d2"/><stop offset="0.45" stop-color="#d2c0da"/><stop offset="0.5" stop-color="#8a8cb4"/>
<stop offset="0.62" stop-color="#5c6c9e"/><stop offset="0.71" stop-color="#c4d2ee"/><stop offset="0.8" stop-color="#eaf0fc"/>
<stop offset="0.9" stop-color="#7084bc"/><stop offset="1" stop-color="#1c2a66"/>
</linearGradient>
<linearGradient id="pink" x1="0" y1="0" x2="1" y2="0"><stop offset="0" stop-color="#f0d0e4" stop-opacity="0.8"/><stop offset="1" stop-color="#f0d0e4" stop-opacity="0"/></linearGradient>
<linearGradient id="bez" x1="0" y1="0" x2="0" y2="1"><stop offset="0" stop-color="#4a4a4a"/><stop offset="0.5" stop-color="#3a3a3a"/><stop offset="1" stop-color="#2c2c2c"/></linearGradient>
</defs>
<circle cx="644.2" cy="518.4" r="4.4" fill="#b4b4b4" stroke="#8a8a8a" stroke-width="0.8"/>
<circle cx="644.2" cy="518.4" r="2" fill="#fafafa"/>
<circle cx="644.2" cy="563.5" r="4.4" fill="#b4b4b4" stroke="#8a8a8a" stroke-width="0.8"/>
<circle cx="644.2" cy="563.5" r="2" fill="#fafafa"/>
<circle cx="819.5" cy="518.4" r="4.4" fill="#b4b4b4" stroke="#8a8a8a" stroke-width="0.8"/>
<circle cx="819.5" cy="518.4" r="2" fill="#fafafa"/>
<circle cx="819.5" cy="563.5" r="4.4" fill="#b4b4b4" stroke="#8a8a8a" stroke-width="0.8"/>
<circle cx="819.5" cy="563.5" r="2" fill="#fafafa"/>
<rect x="725.5" y="508.3" width="4.5" height="4" rx="1.5" fill="#555"/><rect x="733.5" y="508.3" width="4.5" height="4" rx="1.5" fill="#555"/>
<rect x="648.4" y="511.3" width="168.2" height="69.8" rx="7" fill="url(#bez)" stroke="#6a6a6a" stroke-width="0.9"/>
<rect x="652" y="513.2" width="161" height="6" rx="1" fill="#1e1e1e"/>
<rect x="659" y="514.8" width="8" height="1.6" fill="#888"/><rect x="670" y="514.8" width="7" height="1.6" fill="#888"/><rect x="680" y="514.3" width="3.5" height="2.6" fill="#777"/>
<rect x="782" y="514.3" width="4.5" height="2.6" fill="#777"/><rect x="790" y="514.8" width="3" height="1.6" fill="#888"/><rect x="795" y="514.8" width="10" height="1.6" fill="#888"/>
<rect x="669.8" y="518.6" width="124.6" height="52.2" fill="#141414"/>
<rect x="672.3" y="520.1" width="120.5" height="49.1" fill="url(#sky)"/>
<path d="M672.3,534 C695,535 720,538 748,542 L748,545 C720,543 695,543 672.3,544 Z" fill="url(#pink)"/>
<path d="M673,551 L673,545 L676,545 L676,543 L680,543 L680,545 L683,545 L683,544 L686,544 L686,546 L689,546 L689,543.5 L692,543 L692,542 L694,542 L694,543 L697,543 L697,545.5 L700,545.5 L700,543.5 L703,543.5 L703,546 L706,546 L706,544.5 L710,544.5 L710,546.5 L714,546.5 L714,551 Z" fill="#3e3a4e" opacity="0.92"/>
<path d="M674,555.5 C700,553 730,556 760,559.5 C775,561 788,560.5 792.8,559 L792.8,563.5 C770,566 720,565 690,561.5 C682,560.5 676,558.5 674,555.5 Z" fill="#f6f8fe" opacity="0.9"/>
<path d="M690,557.5 C710,560 730,561.5 748,562.5" fill="none" stroke="#56659a" stroke-width="0.9" opacity="0.8"/>
<path d="M712,552 L712.8,548 Q715,545.5 722,544.5 L731.5,542.8 L743.5,538.3 Q750,537.4 760,537.5 L773.2,539 L780.4,543.2 L785.8,546.8 L785.2,551.3 L781,553.5 L760,555.8 L753,556.8 L722,557 L713.5,555.5 Z" fill="#121a4a"/>
<path d="M735,542.5 L744,539.3 L758,539 L772,540 L777.5,543 Z" fill="#3c4878"/>
<path d="M755,539.2 L754,543 M767,539.6 L768,543" stroke="#121a4a" stroke-width="1"/>
<path d="M714,550.5 L726,549.5 M729,549.3 L738,548.8" stroke="#e8ecf8" stroke-width="1.3"/>
<path d="M756,554.5 L777,551.5" stroke="#5a66a8" stroke-width="0.8"/>
<circle cx="749.4" cy="555" r="4.4" fill="#0a0a18" stroke="#8a94b8" stroke-width="0.8"/>
<circle cx="780" cy="552.7" r="3.6" fill="#0a0a18" stroke="#8a94b8" stroke-width="0.8"/>
<rect x="650.6" y="525.5" width="16.2" height="35.4" rx="2.5" fill="#2e2e2e" stroke="#a0a0a0" stroke-width="0.8"/>
<rect x="651.9" y="526.6" width="13.6" height="7.6" rx="1.5" fill="#333" stroke="#555" stroke-width="0.5"/>
<rect x="655.6" y="529.8000000000001" width="6" height="1.1" fill="#aaa"/>
<rect x="651.9" y="535.1" width="13.6" height="7.6" rx="1.5" fill="#333" stroke="#555" stroke-width="0.5"/>
<rect x="655.6" y="538.3000000000001" width="6" height="1.1" fill="#aaa"/>
<rect x="651.9" y="543.6" width="13.6" height="7.6" rx="1.5" fill="#333" stroke="#555" stroke-width="0.5"/>
<rect x="655.6" y="546.8000000000001" width="6" height="1.1" fill="#aaa"/>
<rect x="651.9" y="552.1" width="13.6" height="7.6" rx="1.5" fill="#333" stroke="#555" stroke-width="0.5"/>
<rect x="655.6" y="555.3000000000001" width="6" height="1.1" fill="#aaa"/>
<rect x="796.2" y="525.5" width="16.2" height="35.4" rx="2.5" fill="#2e2e2e" stroke="#a0a0a0" stroke-width="0.8"/>
<rect x="797.5" y="526.6" width="13.6" height="7.6" rx="1.5" fill="#333" stroke="#555" stroke-width="0.5"/>
<rect x="801.2" y="529.8000000000001" width="6" height="1.1" fill="#aaa"/>
<rect x="797.5" y="535.1" width="13.6" height="7.6" rx="1.5" fill="#333" stroke="#555" stroke-width="0.5"/>
<rect x="801.2" y="538.3000000000001" width="6" height="1.1" fill="#aaa"/>
<rect x="797.5" y="543.6" width="13.6" height="7.6" rx="1.5" fill="#333" stroke="#555" stroke-width="0.5"/>
<rect x="801.2" y="546.8000000000001" width="6" height="1.1" fill="#aaa"/>
<rect x="797.5" y="552.1" width="13.6" height="7.6" rx="1.5" fill="#333" stroke="#555" stroke-width="0.5"/>
<rect x="801.2" y="555.3000000000001" width="6" height="1.1" fill="#aaa"/>
<circle cx="659.8" cy="571.8" r="7" fill="#2a2a2a" stroke="#a8a8a8" stroke-width="1.1"/>
<circle cx="659.8" cy="571.8" r="5" fill="#222" stroke="#4a4a4a" stroke-width="0.6"/>
<circle cx="804.2" cy="571.8" r="7" fill="#2a2a2a" stroke="#a8a8a8" stroke-width="1.1"/>
<circle cx="804.2" cy="571.8" r="5" fill="#222" stroke="#4a4a4a" stroke-width="0.6"/>
<rect x="676" y="574" width="3" height="1.3" fill="#888"/><rect x="708" y="577" width="6" height="1.2" fill="#888"/><rect x="727" y="575" width="5" height="2" fill="#888"/><rect x="748" y="577" width="6" height="1.2" fill="#888"/><rect x="783" y="574" width="3" height="1.3" fill="#888"/>
<rect x="658" y="579" width="10" height="0.9" fill="#888"/><rect x="795" y="579" width="12" height="0.9" fill="#888"/>
<path d="M807.5,283.6 L917.6,283.6" stroke="#141414" stroke-width="2.6" fill="none"/>
<path d="M808.7,284.5 L808.7,309.5 L917.6,309.5" stroke="#f0e03a" stroke-width="3" fill="none"/>
<path d="M806,283 L806,336.7 L915.7,336.7" stroke="#c41c1c" stroke-width="2.4" fill="none"/>
<rect x="917.6" y="281.6" width="5.4" height="4.4" fill="#fff" stroke="#888" stroke-width="0.7"/>
<rect x="917.6" y="307.2" width="5.4" height="4.4" fill="#fff" stroke="#888" stroke-width="0.7"/>
<path d="M913,281 L917,279 M914,279.5 L916,277" stroke="#aaa" stroke-width="0.5"/>
<rect x="923" y="277.4" width="25.7" height="38.9" fill="#fff" stroke="#777" stroke-width="0.9"/>
<path d="M929.3,282.5 L929.3,285.5" stroke="#444" stroke-width="0.8"/>
<path d="M927.8,309.9 L930.8,309.9 M929.3,308.4 L929.3,311.4" stroke="#444" stroke-width="0.7"/>
<text transform="translate(933.6,302) rotate(-90)" font-family="Liberation Sans" font-size="6" fill="#333" textLength="9" lengthAdjust="spacingAndGlyphs">Car</text>
<text transform="translate(941.8,305.5) rotate(-90)" font-family="Liberation Sans" font-size="6" fill="#333" textLength="17.7" lengthAdjust="spacingAndGlyphs">Battery</text>
<text x="822.2" y="255" font-family="Liberation Sans" font-size="8.8" font-weight="bold" fill="#111" textLength="93.6" lengthAdjust="spacingAndGlyphs" stroke="#111" stroke-width="0.35" >to cathode of</text>
<text x="822.2" y="265.9" font-family="Liberation Sans" font-size="8.8" font-weight="bold" fill="#111" textLength="106.6" lengthAdjust="spacingAndGlyphs" stroke="#111" stroke-width="0.35" >vehicle battery</text>
<text x="813.2" y="278" font-family="Liberation Sans" font-size="8.8" font-weight="bold" fill="#111" textLength="75.8" lengthAdjust="spacingAndGlyphs" stroke="#111" stroke-width="0.35" >Black wire</text>
<text x="819.0" y="298.5" font-family="Liberation Sans" font-size="8.8" font-weight="bold" fill="#111" textLength="72.8" lengthAdjust="spacingAndGlyphs" stroke="#111" stroke-width="0.35" >to anode of</text>
<text x="820.0" y="308.4" font-family="Liberation Sans" font-size="8.8" font-weight="bold" fill="#111" textLength="96.8" lengthAdjust="spacingAndGlyphs" stroke="#111" stroke-width="0.35" >Vehicle battery</text>
<text x="817.6" y="317.6" font-family="Liberation Sans" font-size="8.8" font-weight="bold" fill="#111" textLength="85.2" lengthAdjust="spacingAndGlyphs" stroke="#111" stroke-width="0.35" >Yellow wire</text>
<text x="815.4" y="333.9" font-family="Liberation Sans" font-size="8.8" font-weight="bold" fill="#111" textLength="131.2" lengthAdjust="spacingAndGlyphs" stroke="#111" stroke-width="0.35" >to Vehicle ACC ON</text>
<text x="822.8" y="346.4" font-family="Liberation Sans" font-size="8.8" font-weight="bold" fill="#111" textLength="66.8" lengthAdjust="spacingAndGlyphs" stroke="#111" stroke-width="0.35" >Red wire</text>
</svg>
</body></html>
